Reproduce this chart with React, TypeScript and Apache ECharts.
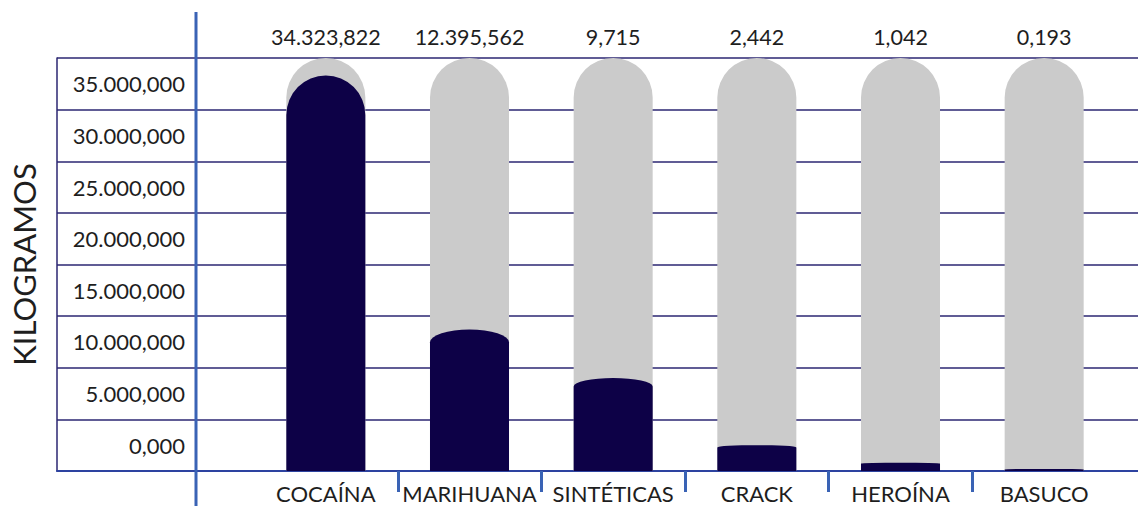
import React, { useEffect, useRef } from "react";
import * as echarts from "echarts";

const categories = ["COCAÍNA", "MARIHUANA", "SINTÉTICAS", "CRACK", "HEROÍNA", "BASUCO"];
const valueLabels = ["34.323,822", "12.395,562", "9,715", "2,442", "1,042", "0,193"];
const barHeights = [38.3, 13.7, 9.0, 2.5, 0.8, 0.2];
const yTickLabels = [
  "0,000",
  "5.000,000",
  "10.000,000",
  "15.000,000",
  "20.000,000",
  "25.000,000",
  "30.000,000",
  "35.000,000",
];
const separators = ["", "", "", "", ""];

const FONT = "Lato";
const NAVY = "#0d0147";
const LINE = "#2b2672";
const BLUE = "#3a63b5";
const GRAY = "#cbcbcb";
const TEXT = "#1e1e1e";

export default function App() {
  const ref = useRef<HTMLDivElement>(null);
  useEffect(() => {
    if (!ref.current) return;
    const chart = echarts.init(ref.current, null, { renderer: "svg" });
    const TOP = 58;
    const BOTTOM = 35;
    const hiddenValue = (gridIndex: number) => ({
      gridIndex,
      type: "value",
      min: 0,
      max: 1,
      show: false,
    });
    const option: any = {
      animation: false,
      textStyle: { fontFamily: FONT },
      grid: [
        { left: 57, right: 0, top: TOP, bottom: BOTTOM },
        { left: 254, right: 22, top: TOP, bottom: BOTTOM },
        { left: 196, right: 0, top: TOP, bottom: BOTTOM },
        { left: 326, right: 94, top: TOP, bottom: BOTTOM },
      ],
      xAxis: [
        {
          gridIndex: 0,
          type: "value",
          min: 0,
          max: 1,
          axisLabel: { show: false },
          axisTick: { show: false },
          splitLine: { show: false },
          axisLine: { show: true, lineStyle: { color: "#2d43a0", width: 2 } },
        },
        {
          gridIndex: 1,
          type: "category",
          data: categories,
          position: "bottom",
          axisLine: { show: false },
          axisTick: { show: false },
          axisLabel: { interval: 0, color: TEXT, fontSize: 22, margin: 11, fontFamily: FONT },
        },
        {
          gridIndex: 1,
          type: "category",
          data: valueLabels,
          position: "top",
          axisLine: { show: false },
          axisTick: { show: false },
          axisLabel: { interval: 0, color: TEXT, fontSize: 21.5, margin: 10, fontFamily: FONT },
        },
        hiddenValue(2),
        {
          gridIndex: 3,
          type: "category",
          data: separators,
          position: "bottom",
          axisLine: { show: false },
          axisLabel: { show: false },
          axisTick: {
            show: true,
            alignWithLabel: true,
            length: 21,
            lineStyle: { color: BLUE, width: 3 },
          },
        },
      ],
      yAxis: [
        {
          gridIndex: 0,
          type: "value",
          min: 0,
          max: 40,
          interval: 5,
          axisLabel: { show: false },
          axisTick: { show: false },
          axisLine: { show: true, lineStyle: { color: LINE, width: 1.5 } },
          splitLine: { show: true, lineStyle: { color: LINE, width: 1.5 } },
        },
        {
          gridIndex: 1,
          type: "value",
          min: 0,
          max: 40,
          interval: 5,
          show: false,
        },
        {
          gridIndex: 2,
          type: "category",
          data: yTickLabels,
          boundaryGap: true,
          axisLine: { show: false },
          axisTick: { show: false },
          splitLine: { show: false },
          axisLabel: { interval: 0, color: TEXT, fontSize: 22, margin: 15, fontFamily: FONT },
          name: "KILOGRAMOS",
          nameLocation: "middle",
          nameRotate: 90,
          nameGap: 161,
          nameTextStyle: { color: TEXT, fontSize: 31, fontFamily: FONT },
        },
        hiddenValue(3),
      ],
      graphic: [
        {
          type: "line",
          shape: { x1: 196, y1: 12, x2: 196, y2: 506 },
          style: { stroke: BLUE, lineWidth: 3 },
          z: 10,
        },
      ],
      series: [
        {
          type: "custom",
          xAxisIndex: 1,
          yAxisIndex: 1,
          z: 5,
          data: barHeights.map((v, i) => [i, v]),
          renderItem: (params: any, api: any) => {
            const idx = api.value(0);
            const val = api.value(1);
            const band = api.size([1, 0])[0];
            const w = band * 0.55;
            const r = w / 2;
            const top = api.coord([idx, val]);
            const base = api.coord([idx, 0]);
            const tubeTop = params.coordSys.y;
            const cx = top[0];
            const x0 = cx - r;
            const x1 = cx + r;
            const yb = base[1];
            const h = yb - top[1];
            const ry = h >= 300 ? r : Math.max(0.5, Math.min(h / 2, h * 0.09));
            const ySide = top[1] + ry;
            const tube = `M ${x0} ${yb} L ${x0} ${tubeTop + r} A ${r} ${r} 0 0 1 ${x1} ${tubeTop + r} L ${x1} ${yb} Z`;
            const fill = `M ${x0} ${yb} L ${x0} ${ySide} A ${r} ${ry} 0 0 1 ${x1} ${ySide} L ${x1} ${yb} Z`;
            return {
              type: "group",
              children: [
                { type: "path", shape: { pathData: tube }, style: { fill: GRAY } },
                { type: "path", shape: { pathData: fill }, style: { fill: NAVY } },
              ],
            };
          },
        },
      ],
    };
    chart.setOption(option);
    return () => chart.dispose();
  }, []);
  return (
    <div
      ref={ref}
      style={{ position: "fixed", left: 0, top: 0, width: 1138, height: 506, background: "#fff" }}
    />
  );
}
